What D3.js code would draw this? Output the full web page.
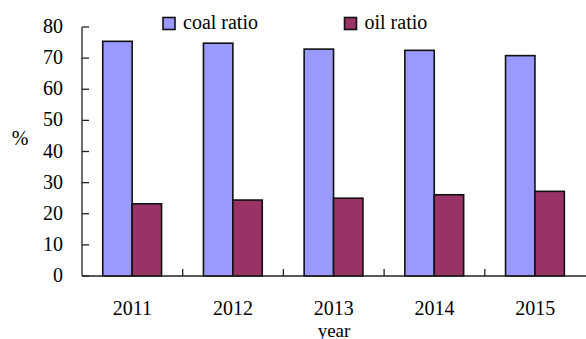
<!DOCTYPE html>
<html>
<head>
<meta charset="utf-8">
<script src="https://cdn.jsdelivr.net/npm/d3@7"></script>
<style>
  html, body { margin: 0; padding: 0; background: #fff; }
  svg { display: block; }
</style>
</head>
<body>
<svg id="chart" width="586" height="339" font-family="'Liberation Serif', 'Times New Roman', Times, serif"></svg>
<script>
const years = ["2011", "2012", "2013", "2014", "2015"];
const coalRatio = [75.4, 74.8, 72.9, 72.5, 70.8];
const oilRatio = [23.2, 24.4, 25.0, 26.1, 27.2];
const seriesNames = ["coal ratio", "oil ratio"];
const seriesColors = ["#9999FF", "#993366"];
const yTicks = [0, 10, 20, 30, 40, 50, 60, 70, 80];

const FONT = "'Liberation Serif', 'Times New Roman', Times, serif";
const svg = d3.select("#chart");
const plotLeft = 82, plotRight = 586, plotTop = 27, plotBottom = 276;

const x = d3.scaleBand().domain(years).range([plotLeft, plotRight - 0.5]).padding(0);
const bw = x.bandwidth();
const x1 = d3.scaleBand().domain(seriesNames).range([bw * 0.206, bw * 0.79]).padding(0);
const y = d3.scaleLinear().domain([0, 80]).range([plotBottom, plotTop]);

const data = years.map((yr, i) => ({ year: yr, values: [coalRatio[i], oilRatio[i]] }));

// bars
const groups = svg.append("g").selectAll("g").data(data).join("g")
  .attr("transform", d => `translate(${x(d.year)},0)`);
groups.selectAll("rect").data(d => d.values.map((v, j) => ({ v, j })))
  .join("rect")
  .attr("x", d => x1(seriesNames[d.j]))
  .attr("width", x1.bandwidth())
  .attr("y", d => y(d.v))
  .attr("height", d => y(0) - y(d.v))
  .attr("fill", d => seriesColors[d.j])
  .attr("stroke", "#111")
  .attr("stroke-width", 1.6);

// y axis
const yAxis = svg.append("g").attr("transform", `translate(${plotLeft},0)`);
yAxis.append("line").attr("x1", 0).attr("x2", 0).attr("y1", y(80)).attr("y2", y(0))
  .attr("stroke", "#222").attr("stroke-width", 1.3);
yAxis.selectAll("line.tick").data(yTicks).join("line").attr("class", "tick")
  .attr("x1", 0).attr("x2", 7).attr("y1", d => y(d)).attr("y2", d => y(d))
  .attr("stroke", "#222").attr("stroke-width", 1.3);
yAxis.selectAll("text").data(yTicks).join("text")
  .attr("x", -19).attr("y", d => y(d)).attr("dy", "0.3em")
  .attr("text-anchor", "end").attr("font-size", 20).attr("font-family", FONT).text(d => d);

// x axis
const xAxis = svg.append("g");
xAxis.append("line").attr("x1", plotLeft).attr("x2", plotRight).attr("y1", y(0)).attr("y2", y(0))
  .attr("stroke", "#222").attr("stroke-width", 1.3);
xAxis.selectAll("line.tick").data(years.slice(1)).join("line").attr("class", "tick")
  .attr("x1", d => x(d)).attr("x2", d => x(d)).attr("y1", y(0)).attr("y2", y(0) - 7)
  .attr("stroke", "#222").attr("stroke-width", 1.3);
xAxis.selectAll("text").data(years).join("text")
  .attr("x", d => x(d) + bw / 2).attr("y", 315)
  .attr("text-anchor", "middle").attr("font-size", 20).attr("font-family", FONT).text(d => d);

// axis titles
svg.append("text").attr("x", (plotLeft + plotRight) / 2).attr("y", 336.5)
  .attr("text-anchor", "middle").attr("font-size", 19).attr("font-family", FONT).text("year");
svg.append("text").attr("x", 20).attr("y", 145)
  .attr("text-anchor", "middle").attr("font-size", 20).attr("font-family", FONT).text("%");

// legend
const legendX = [163, 344.5];
const legend = svg.append("g").selectAll("g").data(seriesNames).join("g")
  .attr("transform", (d, i) => `translate(${legendX[i]},17.5)`);
legend.append("rect").attr("width", 12).attr("height", 12)
  .attr("fill", (d, i) => seriesColors[i]).attr("stroke", "#111").attr("stroke-width", 1.6);
legend.append("text").attr("x", 20).attr("y", 11.5).attr("font-size", 20).attr("font-family", FONT).text(d => d);
</script>
</body>
</html>
